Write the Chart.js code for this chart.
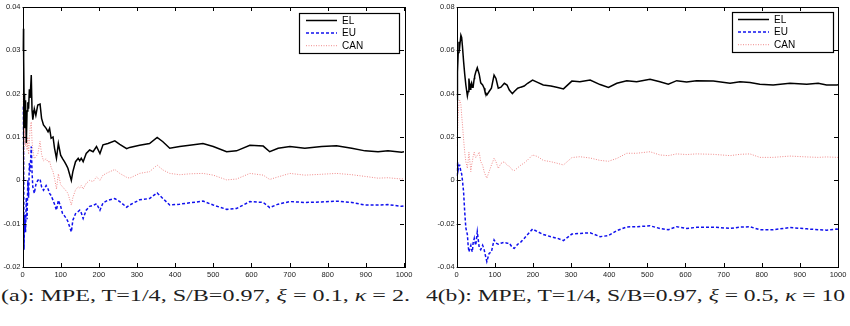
<!DOCTYPE html>
<html>
<head>
<meta charset="utf-8">
<script src="https://cdn.jsdelivr.net/npm/chart.js@4.4.1/dist/chart.umd.min.js"></script>
<style>
  html, body { margin: 0; padding: 0; background: #fff; }
  body { width: 850px; height: 326px; position: relative; overflow: hidden; }
  canvas { position: absolute; top: 0; }
  #chartA { left: 0; }
  #chartB { left: 425px; }
  .caption {
    position: absolute; top: 288px; line-height: 16px;
    font-family: "Liberation Serif", "DejaVu Serif", serif; font-size: 16px;
    white-space: nowrap; color: #1e1e1e; transform-origin: 0 0;
  }
  #capA { left: 1px; }
  #capB { left: 426px; }
</style>
</head>
<body>
<canvas id="chartA" width="425" height="285"></canvas>
<canvas id="chartB" width="425" height="285"></canvas>
<div class="caption" id="capA" data-width="409">(a): MPE, T=1/4, S/B=0.97, <i>ξ</i> = 0.1, <i>κ</i> = 2.</div>
<div class="caption" id="capB" data-width="419">4(b): MPE, T=1/4, S/B=0.97, <i>ξ</i> = 0.5, <i>κ</i> = 10</div>

<script>
// ---- data ----
const seriesNames = ['EL', 'EU', 'CAN'];
const xTicks = [0, 100, 200, 300, 400, 500, 600, 700, 800, 900, 1000];
const yTicksA = [-0.02, -0.01, 0, 0.01, 0.02, 0.03, 0.04];
const yTicksB = [-0.04, -0.02, 0, 0.02, 0.04, 0.06, 0.08];

// panel (a)
const tA = [1,2,3,4,5,6,8,10,12,14,16,18,20,23,25,27,31,35,40,46,
  50,55,62,67,71,75,80,84,89,94,100,105,110,115,119,128,132,139,146,150,
  154,159,167,176,185,194,203,211,224,242,255,273,281,307,333,353,368,386,412,438,
  473,500,535,561,596,631,648,670,701,740,784,823,863,898,932,958,994,1000];
const elA = [0.030,0.035,0.028,0.020,0.018,0.012,0.0185,0.0086,0.016,0.018,
  0.0165,0.021,0.019,0.0243,0.0162,0.014,0.0165,0.015,0.0174,0.0176,
  0.0143,0.0128,0.012,0.0112,0.012,0.0097,0.0100,0.0074,0.0051,0.0085,
  0.0058,0.005,0.0043,0.0035,0.0028,0.0,0.002,0.0043,0.0051,0.0045,
  0.0051,0.0043,0.0062,0.007,0.0066,0.0078,0.0062,0.0082,0.0085,0.0091,
  0.0083,0.0073,0.0076,0.0081,0.0085,0.0099,0.0089,0.0074,0.0078,0.0081,
  0.0085,0.0078,0.0066,0.0068,0.0081,0.0079,0.0066,0.0074,0.0078,0.0074,
  0.0078,0.008,0.0074,0.0068,0.0066,0.0068,0.0065,0.0066];
const euA = [0.017,0.012,0.005,-0.016,-0.011,-0.008,-0.012,-0.004,-0.009,0.0,
  -0.004,0.004,0.002,0.0078,0.002,-0.0015,-0.003,-0.001,0.0,0.0003,
  -0.0015,-0.0023,-0.0012,-0.002,-0.003,-0.0035,-0.0046,-0.0055,-0.0069,-0.0046,
  -0.006,-0.0077,-0.0082,-0.0088,-0.0095,-0.0119,-0.0092,-0.0077,-0.0072,-0.0069,
  -0.0075,-0.0088,-0.0069,-0.006,-0.0058,-0.0054,-0.0069,-0.0052,-0.0046,-0.0042,
  -0.0049,-0.0062,-0.0057,-0.0045,-0.0042,-0.0029,-0.0042,-0.0057,-0.0055,-0.0052,
  -0.0048,-0.0057,-0.0067,-0.0065,-0.0049,-0.0051,-0.0063,-0.0055,-0.0049,-0.0051,
  -0.005,-0.0048,-0.0051,-0.0057,-0.0057,-0.0056,-0.006,-0.0059];
const canA = [0.020,0.012,0.0,0.005,0.012,0.009,0.008,0.011,0.007,0.010,
  0.006,0.009,0.012,0.0135,0.009,0.007,0.005,0.0055,0.006,0.009,
  0.006,0.0045,0.005,0.0042,0.0045,0.003,0.002,0.0005,-0.002,0.0015,
  -0.001,-0.0015,-0.002,-0.0025,-0.003,-0.0057,-0.004,-0.0022,-0.0015,-0.0018,
  -0.0012,-0.002,-0.0007,0.0,-0.0003,0.0008,0.0,0.0012,0.0018,0.0025,
  0.0016,0.0007,0.0005,0.0016,0.002,0.0035,0.0024,0.0016,0.0013,0.0015,
  0.0016,0.0012,0.0001,0.0003,0.0016,0.0012,0.0002,0.0008,0.0016,0.0012,
  0.0014,0.0016,0.0013,0.0009,0.0005,0.0006,0.0003,0.0004];

// panel (b)
const tB = [1,2,4,6,8,11,13,15,18,21,24,28,30,32,35,37,39,41,43,46,
  47,50,54,59,63,68,72,74,79,85,91,98,103,109,116,125,132,138,146,151,
  160,168,177,186,199,212,227,247,265,280,302,323,350,376,398,420,446,472,507,533,
  555,577,603,629,673,717,743,769,795,830,874,918,948,970,997,1000];
const elB = [0.037,0.050,0.059,0.064,0.062,0.067,0.066,0.062,0.055,0.049,
  0.044,0.039,0.041,0.047,0.042,0.044,0.045,0.043,0.043,0.047,
  0.048,0.050,0.052,0.049,0.045,0.044,0.0425,0.041,0.0394,0.041,
  0.0425,0.0486,0.047,0.0425,0.043,0.0448,0.044,0.0417,0.040,0.041,
  0.0425,0.043,0.0435,0.0448,0.0463,0.0452,0.044,0.0435,0.0428,0.0422,
  0.0458,0.0455,0.0463,0.0442,0.0429,0.0448,0.046,0.0455,0.0466,0.0455,
  0.0444,0.046,0.0454,0.046,0.0459,0.0448,0.0455,0.0452,0.0444,0.044,
  0.0448,0.0443,0.0448,0.044,0.044,0.0441];
const euB = [0.002,0.0086,0.005,0.007,0.007,0.004,0.003,0.0,-0.0052,-0.0145,
  -0.022,-0.025,-0.030,-0.033,-0.031,-0.030,-0.032,-0.033,-0.029,-0.0268,
  -0.028,-0.030,-0.0237,-0.031,-0.032,-0.030,-0.032,-0.0337,-0.0375,-0.0337,
  -0.033,-0.0275,-0.029,-0.0295,-0.029,-0.0286,-0.029,-0.029,-0.031,-0.0314,
  -0.0295,-0.0285,-0.0268,-0.025,-0.0225,-0.0237,-0.025,-0.026,-0.0268,-0.0278,
  -0.0248,-0.0245,-0.0242,-0.026,-0.0255,-0.0232,-0.0215,-0.0214,-0.021,-0.0222,
  -0.0228,-0.0214,-0.0222,-0.0217,-0.0216,-0.0222,-0.0216,-0.0214,-0.0228,-0.0228,
  -0.0218,-0.0224,-0.0228,-0.023,-0.0225,-0.0226];
const canB = [0.016,0.020,0.030,0.036,0.037,0.035,0.030,0.026,0.019,0.013,
  0.0086,0.0055,0.009,0.013,0.008,0.004,0.007,0.0086,0.011,0.013,
  0.012,0.0105,0.0115,0.013,0.0086,0.007,0.004,0.003,0.001,0.004,
  0.007,0.0102,0.0086,0.0055,0.0078,0.0086,0.007,0.0065,0.0048,0.0045,
  0.0058,0.007,0.008,0.0094,0.0117,0.011,0.0092,0.0086,0.0078,0.0071,
  0.0105,0.0109,0.0103,0.0092,0.0088,0.0101,0.0125,0.0125,0.0132,0.0117,
  0.0114,0.0122,0.0119,0.0122,0.012,0.0114,0.012,0.0122,0.0106,0.0106,
  0.0112,0.0108,0.0106,0.0108,0.0106,0.0106];

// ---- helpers ----
const tickFont = { family: '"Liberation Sans", Arial, sans-serif', size: 7.5 };

function pairs(xs, ys) {
  return xs.map(function(x, i) { return { x: x, y: ys[i] }; });
}

function makeDatasets(t, el, eu, can) {
  return [
    { label: seriesNames[0], data: pairs(t, el), borderColor: '#000000', borderWidth: 1.5, borderDash: [] },
    { label: seriesNames[1], data: pairs(t, eu), borderColor: '#1010ee', borderWidth: 1.5, borderDash: [3, 2] },
    { label: seriesNames[2], data: pairs(t, can), borderColor: '#f08a8a', borderWidth: 1, borderDash: [1, 1.5] }
  ];
}

// MATLAB-like box with inward ticks on all four sides
const matlabFrame = {
  id: 'matlabFrame',
  afterDraw: function(chart) {
    const ctx = chart.ctx, a = chart.chartArea;
    const xs = chart.scales.x, ys = chart.scales.y;
    const L = 4;
    ctx.save();
    ctx.strokeStyle = '#000';
    ctx.lineWidth = 1;
    ctx.beginPath();
    xs.ticks.forEach(function(tk) {
      const px = Math.round(xs.getPixelForValue(tk.value)) + 0.5;
      ctx.moveTo(px, a.bottom); ctx.lineTo(px, a.bottom - L);
      ctx.moveTo(px, a.top); ctx.lineTo(px, a.top + L);
    });
    ys.ticks.forEach(function(tk) {
      const py = Math.round(ys.getPixelForValue(tk.value)) + 0.5;
      ctx.moveTo(a.left, py); ctx.lineTo(a.left + L, py);
      ctx.moveTo(a.right, py); ctx.lineTo(a.right - L, py);
    });
    ctx.stroke();
    ctx.strokeRect(Math.round(a.left) + 0.5, Math.round(a.top) + 0.5,
      Math.round(a.right - a.left), Math.round(a.bottom - a.top));
    ctx.restore();
  }
};

// boxed legend in the upper right corner
const boxLegend = {
  id: 'boxLegend',
  afterDraw: function(chart, args, opts) {
    const ctx = chart.ctx;
    ctx.save();
    ctx.fillStyle = '#fff';
    ctx.fillRect(opts.x, opts.y, opts.w, opts.h);
    ctx.strokeStyle = '#000';
    ctx.lineWidth = 1.2;
    ctx.strokeRect(opts.x + 0.5, opts.y + 0.5, opts.w, opts.h);
    ctx.font = '10px "Liberation Sans", Arial, sans-serif';
    ctx.textBaseline = 'middle';
    chart.data.datasets.forEach(function(ds, i) {
      const cy = opts.y + opts.rowTop + i * opts.rowGap;
      ctx.beginPath();
      ctx.setLineDash(ds.borderDash || []);
      ctx.strokeStyle = ds.borderColor;
      ctx.lineWidth = ds.borderWidth;
      ctx.moveTo(opts.x + opts.lineStart, cy);
      ctx.lineTo(opts.x + opts.lineStart + opts.lineLen, cy);
      ctx.stroke();
      ctx.setLineDash([]);
      ctx.fillStyle = '#000';
      ctx.fillText(ds.label, opts.x + opts.textStart, cy + 0.5);
    });
    ctx.restore();
  }
};

function makeChart(id, t, el, eu, can, yMin, yMax, yTicks, yAxisWidth, padRight, legendPos) {
  return new Chart(document.getElementById(id), {
    type: 'line',
    data: { datasets: makeDatasets(t, el, eu, can) },
    options: {
      responsive: false,
      animation: false,
      events: [],
      layout: { padding: { top: 7, right: padRight, left: 0, bottom: 0 } },
      elements: { point: { radius: 0 }, line: { tension: 0, fill: false } },
      plugins: { legend: { display: false }, tooltip: { enabled: false }, boxLegend: legendPos },
      scales: {
        x: {
          type: 'linear', min: 0, max: 1000,
          afterBuildTicks: function(s) { s.ticks = xTicks.map(function(v) { return { value: v }; }); },
          afterFit: function(s) { s.height = 18; },
          grid: { display: false, drawTicks: false },
          border: { display: false },
          ticks: { font: tickFont, color: '#222', padding: 3, maxRotation: 0, autoSkip: false,
            callback: function(v) { return String(v); } }
        },
        y: {
          type: 'linear', min: yMin, max: yMax,
          afterBuildTicks: function(s) { s.ticks = yTicks.map(function(v) { return { value: v }; }); },
          afterFit: function(s) { s.width = yAxisWidth; },
          grid: { display: false, drawTicks: false },
          border: { display: false },
          ticks: { font: tickFont, color: '#222', padding: 2, autoSkip: false,
            callback: function(v) { return String(parseFloat(v.toFixed(2))); } }
        }
      }
    },
    plugins: [matlabFrame, boxLegend]
  });
}

makeChart('chartA', tA, elA, euA, canA, -0.02, 0.04, yTicksA, 22.5, 21,
  { x: 299, y: 13, w: 100, h: 40, rowTop: 7.5, rowGap: 12.6, lineStart: 7, lineLen: 31, textStart: 43 });
makeChart('chartB', tB, elB, euB, canB, -0.04, 0.08, yTicksB, 31.7, 12,
  { x: 307, y: 12, w: 101, h: 40, rowTop: 7.5, rowGap: 12.6, lineStart: 6, lineLen: 31, textStart: 42 });

// stretch captions to the width they have in the reference
document.querySelectorAll('.caption').forEach(function(el) {
  const w = el.getBoundingClientRect().width;
  el.style.transform = 'scaleX(' + (parseFloat(el.dataset.width) / w) + ')';
});
</script>
</body>
</html>
